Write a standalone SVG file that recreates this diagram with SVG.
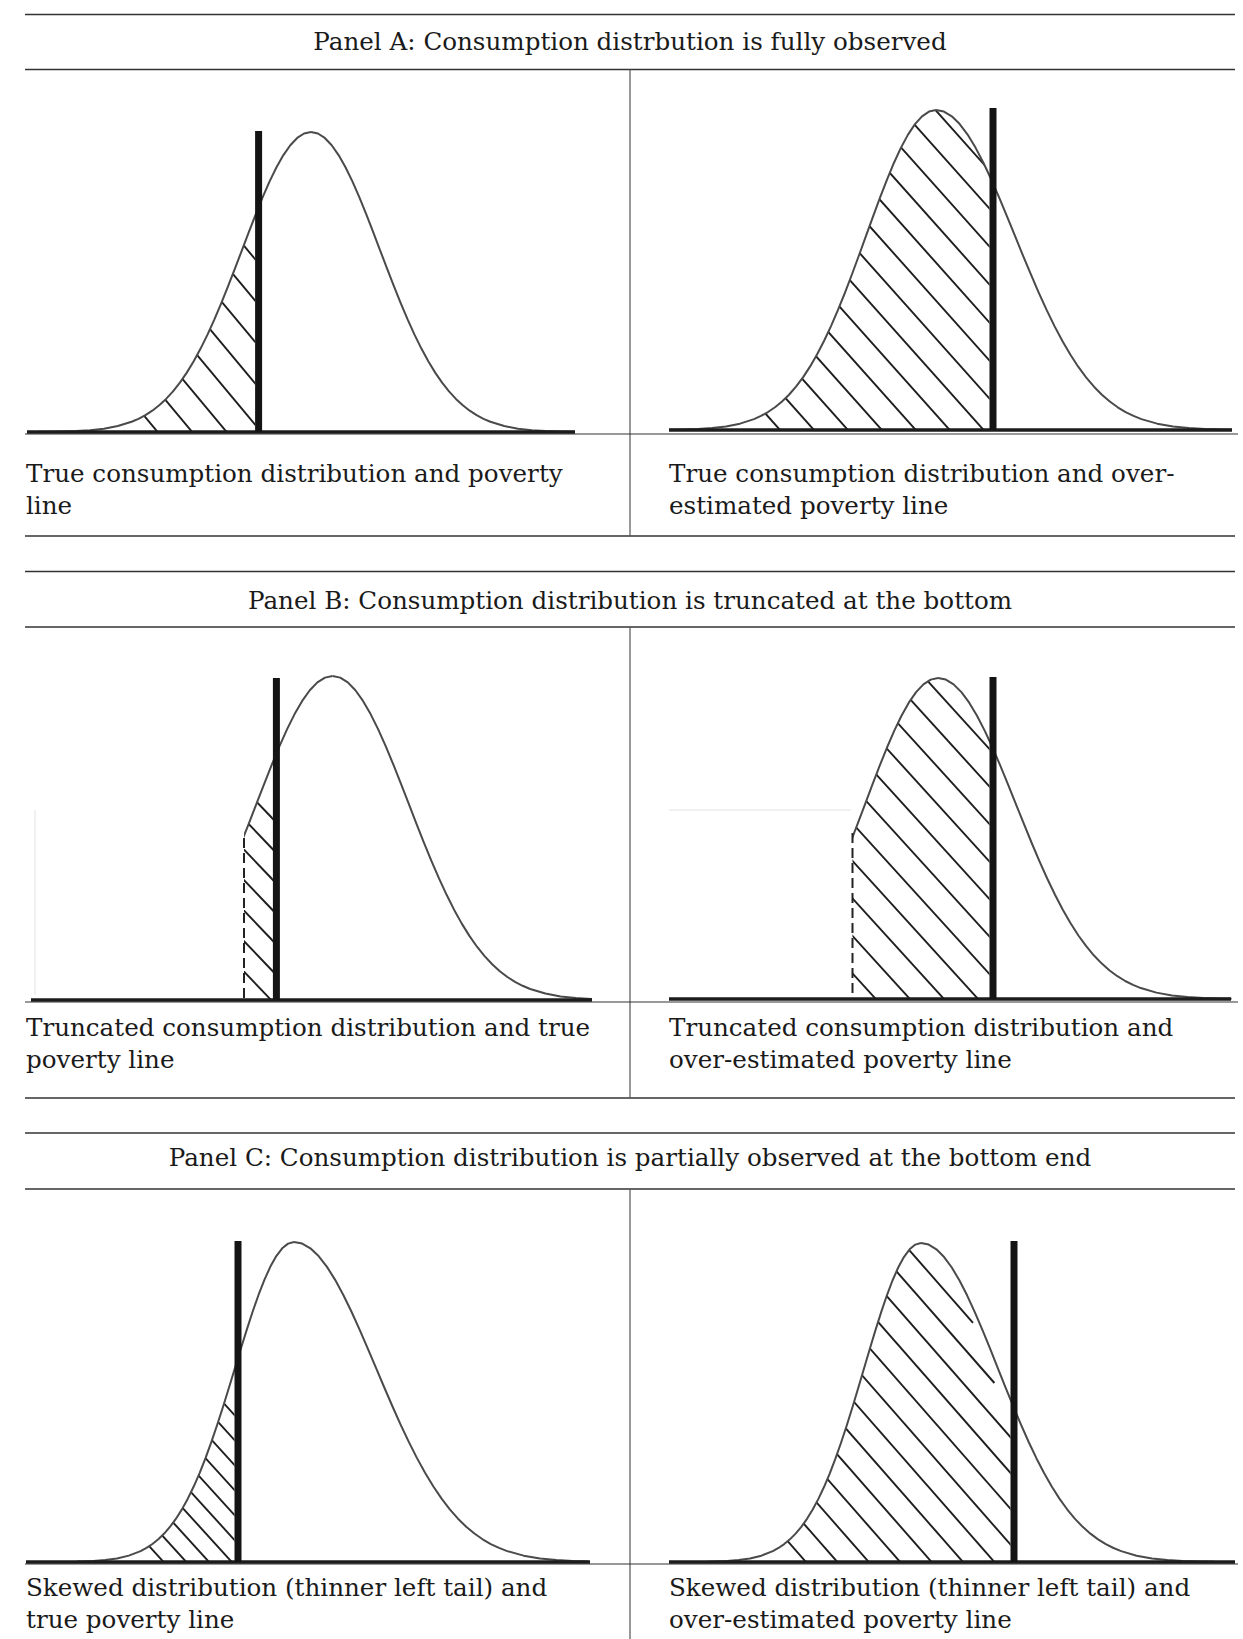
<svg xmlns="http://www.w3.org/2000/svg" width="1243" height="1639" viewBox="0 0 1243 1639">
<style>
.rule{stroke:#333;stroke-width:1.6;fill:none}
.div{stroke:#555;stroke-width:1.2;fill:none}
.thin{stroke:#333;stroke-width:1.2}
.base{stroke:#1c1c1c;stroke-width:3.5}
.pov{stroke:#141414;stroke-width:7}
.curve{fill:none;stroke:#4a4a4a;stroke-width:2;stroke-linejoin:round}
.hatch line{stroke:#1e1e1e;stroke-width:1.9}
.dash{stroke:#222;stroke-width:2;stroke-dasharray:10 5}
.faint{stroke:#e2e2e2;stroke-width:1}
text{font-family:"DejaVu Serif","Liberation Serif",serif;font-size:24.6px;fill:#1a1a1a}
.title{text-anchor:middle}
</style>
<defs>
<path id="g" vector-effect="non-scaling-stroke" d="M0,-1 L0.1,-0.99501 L0.2,-0.9802 L0.3,-0.956 L0.4,-0.92312 L0.5,-0.8825 L0.6,-0.83527 L0.7,-0.7827 L0.8,-0.72615 L0.9,-0.66698 L1,-0.60653 L1.1,-0.54607 L1.2,-0.48675 L1.3,-0.42956 L1.4,-0.37531 L1.5,-0.32465 L1.6,-0.27804 L1.7,-0.23575 L1.8,-0.1979 L1.9,-0.16447 L2,-0.13534 L2.1,-0.11025 L2.2,-0.08892 L2.3,-0.071 L2.4,-0.05613 L2.5,-0.04394 L2.6,-0.03405 L2.8,-0.01984 L3,-0.01111 L3.2,-0.00598 L3.4,-0.00309 L3.6,-0.00153 L3.8,-0.00073 L4,-0.00034 L4.6,0"/>
<path id="gf" d="M0,0 L0,-1 L0.1,-0.99501 L0.2,-0.9802 L0.3,-0.956 L0.4,-0.92312 L0.5,-0.8825 L0.6,-0.83527 L0.7,-0.7827 L0.8,-0.72615 L0.9,-0.66698 L1,-0.60653 L1.1,-0.54607 L1.2,-0.48675 L1.3,-0.42956 L1.4,-0.37531 L1.5,-0.32465 L1.6,-0.27804 L1.7,-0.23575 L1.8,-0.1979 L1.9,-0.16447 L2,-0.13534 L2.1,-0.11025 L2.2,-0.08892 L2.3,-0.071 L2.4,-0.05613 L2.5,-0.04394 L2.6,-0.03405 L2.8,-0.01984 L3,-0.01111 L3.2,-0.00598 L3.4,-0.00309 L3.6,-0.00153 L3.8,-0.00073 L4,-0.00034 L4.6,0 Z"/>

<clipPath id="aA1"><use href="#gf" transform="translate(311,432) scale(-69,300)"/><use href="#gf" transform="translate(311,432) scale(69,300)"/></clipPath>
<clipPath id="aA2"><use href="#gf" transform="translate(936,430) scale(-70,320)"/><use href="#gf" transform="translate(936,430) scale(79,320)"/></clipPath>
<clipPath id="aB1"><use href="#gf" transform="translate(332.6,1000) scale(-76,324)"/><use href="#gf" transform="translate(332.6,1000) scale(76,324)"/></clipPath>
<clipPath id="aB2"><use href="#gf" transform="translate(938,999) scale(-73,321)"/><use href="#gf" transform="translate(938,999) scale(78,321)"/></clipPath>
<clipPath id="aC1"><use href="#gf" transform="translate(294,1562) scale(-59,320)"/><use href="#gf" transform="translate(294,1562) scale(82,320)"/></clipPath>
<clipPath id="aC2"><use href="#gf" transform="translate(921,1562) scale(-57,319)"/><use href="#gf" transform="translate(921,1562) scale(77,319)"/></clipPath>

<clipPath id="rA1"><rect x="0" y="0" width="255" height="432"/></clipPath>
<clipPath id="rA2"><rect x="600" y="0" width="389.5" height="430"/></clipPath>
<clipPath id="rB1"><rect x="244" y="600" width="29" height="400"/></clipPath>
<clipPath id="rB2"><rect x="852.5" y="600" width="137" height="399"/></clipPath>
<clipPath id="rC1"><rect x="0" y="1150" width="234.5" height="412"/></clipPath>
<clipPath id="rC2"><rect x="640" y="1150" width="370.5" height="412"/></clipPath>

<clipPath id="cA1"><rect x="38" y="0" width="537" height="440"/></clipPath>
<clipPath id="cA2"><rect x="669" y="0" width="563" height="440"/></clipPath>
<clipPath id="cB1"><rect x="244" y="600" width="348" height="410"/></clipPath>
<clipPath id="cB2"><rect x="852.5" y="600" width="379" height="410"/></clipPath>
<clipPath id="cC1"><rect x="77" y="1150" width="511" height="420"/></clipPath>
<clipPath id="cC2"><rect x="708" y="1150" width="506" height="420"/></clipPath>
</defs>

<rect x="0" y="0" width="1243" height="1639" fill="#fff"/>

<g id="frame">
<line class="rule" x1="25" y1="14.5" x2="1235" y2="14.5"/>
<line class="rule" x1="25" y1="69.5" x2="1235" y2="69.5"/>
<line class="rule" x1="25" y1="536" x2="1235" y2="536"/>
<line class="rule" x1="25" y1="571.5" x2="1235" y2="571.5"/>
<line class="rule" x1="25" y1="627" x2="1235" y2="627"/>
<line class="rule" x1="25" y1="1098" x2="1235" y2="1098"/>
<line class="rule" x1="25" y1="1133" x2="1235" y2="1133"/>
<line class="rule" x1="25" y1="1189" x2="1235" y2="1189"/>
<line class="div" x1="630" y1="69.5" x2="630" y2="536"/>
<line class="div" x1="630" y1="627" x2="630" y2="1098"/>
<line class="div" x1="630" y1="1189" x2="630" y2="1639"/>
<line class="thin" x1="25" y1="434" x2="1238" y2="434"/>
<line class="thin" x1="25" y1="1002" x2="1238" y2="1002"/>
<line class="thin" x1="25" y1="1564" x2="1238" y2="1564"/>
</g>

<g id="panelA">
<text class="title" x="630" y="50">Panel A: Consumption distrbution is fully observed</text>
<g id="chartA1">
<g clip-path="url(#rA1)"><g class="hatch" clip-path="url(#aA1)">
<line x1="55" y1="19" x2="265" y2="271"/>
<line x1="55" y1="60.4" x2="265" y2="312.4"/>
<line x1="55" y1="101.8" x2="265" y2="353.8"/>
<line x1="55" y1="143.2" x2="265" y2="395.2"/>
<line x1="55" y1="184.6" x2="265" y2="436.6"/>
<line x1="55" y1="226" x2="265" y2="478"/>
<line x1="55" y1="267.4" x2="265" y2="519.4"/>
<line x1="55" y1="308.8" x2="265" y2="560.8"/>
</g></g>
<g clip-path="url(#cA1)"><use class="curve" href="#g" transform="translate(311,432) scale(-69,300)"/><use class="curve" href="#g" transform="translate(311,432) scale(69,300)"/></g>
<line class="base" x1="27" y1="432" x2="575" y2="432"/>
<line class="pov" x1="258.6" y1="131" x2="258.6" y2="432"/>
<text x="26" y="482">True consumption distribution and poverty</text>
<text x="26" y="514">line</text>
</g>
<g id="chartA2">
<g clip-path="url(#rA2)"><g class="hatch" clip-path="url(#aA2)">
<line x1="729" y1="-121.2" x2="999" y2="181.2"/>
<line x1="729" y1="-83.2" x2="999" y2="219.2"/>
<line x1="729" y1="-45.2" x2="999" y2="257.2"/>
<line x1="729" y1="-7.2" x2="999" y2="295.2"/>
<line x1="729" y1="30.8" x2="999" y2="333.2"/>
<line x1="729" y1="68.8" x2="999" y2="371.2"/>
<line x1="729" y1="106.8" x2="999" y2="409.2"/>
<line x1="729" y1="144.8" x2="999" y2="447.2"/>
<line x1="729" y1="182.8" x2="999" y2="485.2"/>
<line x1="729" y1="220.8" x2="999" y2="523.2"/>
<line x1="729" y1="258.8" x2="999" y2="561.2"/>
<line x1="729" y1="296.8" x2="999" y2="599.2"/>
<line x1="729" y1="334.8" x2="999" y2="637.2"/>
<line x1="729" y1="372.8" x2="999" y2="675.2"/>
</g></g>
<g clip-path="url(#cA2)"><use class="curve" href="#g" transform="translate(936,430) scale(-70,320)"/><use class="curve" href="#g" transform="translate(936,430) scale(79,320)"/></g>
<line class="base" x1="669" y1="430" x2="1232" y2="430"/>
<line class="pov" x1="993" y1="108" x2="993" y2="430"/>
<text x="669" y="482">True consumption distribution and over-</text>
<text x="669" y="514">estimated poverty line</text>
</g>
</g>

<g id="panelB">
<text class="title" x="630" y="609">Panel B: Consumption distribution is truncated at the bottom</text>
<g id="chartB1">
<line class="faint" x1="35" y1="810" x2="35" y2="995"/>
<g clip-path="url(#rB1)"><g class="hatch" clip-path="url(#aB1)">
<line x1="223" y1="766.5" x2="283" y2="829.5"/>
<line x1="223" y1="797" x2="283" y2="860"/>
<line x1="223" y1="827.5" x2="283" y2="890.5"/>
<line x1="223" y1="858" x2="283" y2="921"/>
<line x1="223" y1="888.5" x2="283" y2="951.5"/>
<line x1="223" y1="919" x2="283" y2="982"/>
<line x1="223" y1="949.5" x2="283" y2="1012.5"/>
</g></g>
<g clip-path="url(#cB1)"><use class="curve" href="#g" transform="translate(332.6,1000) scale(-76,324)"/><use class="curve" href="#g" transform="translate(332.6,1000) scale(76,324)"/></g>
<line class="dash" x1="244" y1="838" x2="244" y2="998"/>
<line class="base" x1="31" y1="1000" x2="592" y2="1000"/>
<line class="pov" x1="276.4" y1="678" x2="276.4" y2="1000"/>
<text x="26" y="1036">Truncated consumption distribution and true</text>
<text x="26" y="1068">poverty line</text>
</g>
<g id="chartB2">
<line class="faint" x1="669" y1="810" x2="851" y2="810"/>
<g clip-path="url(#rB2)"><g class="hatch" clip-path="url(#aB2)">
<line x1="829" y1="572.5" x2="999" y2="759.5"/>
<line x1="829" y1="610" x2="999" y2="797"/>
<line x1="829" y1="647.5" x2="999" y2="834.5"/>
<line x1="829" y1="685" x2="999" y2="872"/>
<line x1="829" y1="722.5" x2="999" y2="909.5"/>
<line x1="829" y1="760" x2="999" y2="947"/>
<line x1="829" y1="797.5" x2="999" y2="984.5"/>
<line x1="829" y1="835" x2="999" y2="1022"/>
<line x1="829" y1="872.5" x2="999" y2="1059.5"/>
<line x1="829" y1="910" x2="999" y2="1097"/>
<line x1="829" y1="947.5" x2="999" y2="1134.5"/>
</g></g>
<g clip-path="url(#cB2)"><use class="curve" href="#g" transform="translate(938,999) scale(-73,321)"/><use class="curve" href="#g" transform="translate(938,999) scale(78,321)"/></g>
<line class="dash" x1="852.5" y1="833" x2="852.5" y2="998"/>
<line class="base" x1="669" y1="999" x2="1231" y2="999"/>
<line class="pov" x1="993" y1="677" x2="993" y2="999"/>
<text x="669" y="1036">Truncated consumption distribution and</text>
<text x="669" y="1068">over-estimated poverty line</text>
</g>
</g>

<g id="panelC">
<text class="title" x="630" y="1166">Panel C: Consumption distribution is partially observed at the bottom end</text>
<g id="chartC1">
<g clip-path="url(#rC1)"><g class="hatch" clip-path="url(#aC1)">
<line x1="94.5" y1="1261" x2="244.5" y2="1426"/>
<line x1="94.5" y1="1286" x2="244.5" y2="1451"/>
<line x1="94.5" y1="1311" x2="244.5" y2="1476"/>
<line x1="94.5" y1="1336" x2="244.5" y2="1501"/>
<line x1="94.5" y1="1361" x2="244.5" y2="1526"/>
<line x1="94.5" y1="1386" x2="244.5" y2="1551"/>
<line x1="94.5" y1="1411" x2="244.5" y2="1576"/>
<line x1="94.5" y1="1436" x2="244.5" y2="1601"/>
<line x1="94.5" y1="1461" x2="244.5" y2="1626"/>
<line x1="94.5" y1="1486" x2="244.5" y2="1651"/>
</g></g>
<g clip-path="url(#cC1)"><use class="curve" href="#g" transform="translate(294,1562) scale(-59,320)"/><use class="curve" href="#g" transform="translate(294,1562) scale(82,320)"/></g>
<line class="base" x1="26" y1="1562" x2="590" y2="1562"/>
<line class="pov" x1="238" y1="1241" x2="238" y2="1562"/>
<text x="26" y="1596">Skewed distribution (thinner left tail) and</text>
<text x="26" y="1628">true poverty line</text>
</g>
<g id="chartC2">
<g clip-path="url(#rC2)"><g class="hatch" clip-path="url(#aC2)">
<line x1="760" y1="1080" x2="973" y2="1322.8"/>
<line x1="760" y1="1115.8" x2="994.4" y2="1383"/>
<line x1="760" y1="1151.6" x2="1020" y2="1448"/>
<line x1="760" y1="1187.4" x2="1020" y2="1483.8"/>
<line x1="760" y1="1223.2" x2="1020" y2="1519.6"/>
<line x1="760" y1="1259" x2="1020" y2="1555.4"/>
<line x1="760" y1="1294.8" x2="1020" y2="1591.2"/>
<line x1="760" y1="1330.6" x2="1020" y2="1627"/>
<line x1="760" y1="1366.4" x2="1020" y2="1662.8"/>
<line x1="760" y1="1402.2" x2="1020" y2="1698.6"/>
<line x1="760" y1="1438" x2="1020" y2="1734.4"/>
<line x1="760" y1="1473.8" x2="1020" y2="1770.2"/>
<line x1="760" y1="1509.6" x2="1020" y2="1806"/>
</g></g>
<g clip-path="url(#cC2)"><use class="curve" href="#g" transform="translate(921,1562) scale(-57,319)"/><use class="curve" href="#g" transform="translate(921,1562) scale(77,319)"/></g>
<line class="base" x1="669" y1="1562" x2="1235" y2="1562"/>
<line class="pov" x1="1014" y1="1241" x2="1014" y2="1562"/>
<text x="669" y="1596">Skewed distribution (thinner left tail) and</text>
<text x="669" y="1628">over-estimated poverty line</text>
</g>
</g>
</svg>
